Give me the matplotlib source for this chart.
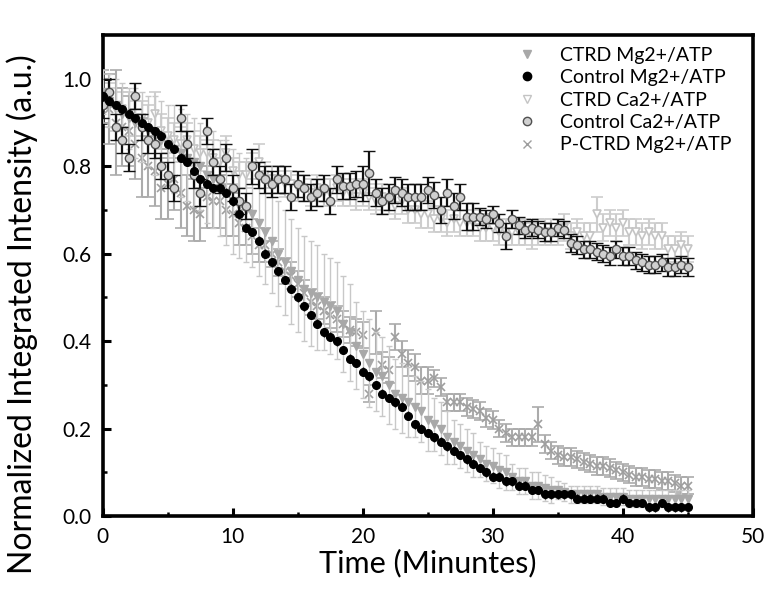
import matplotlib
matplotlib.use("Agg")
import matplotlib.pyplot as plt
from matplotlib.lines import Line2D
import numpy as np

plt.rcParams['font.family'] = ['Lato', 'DejaVu Sans']

# time points, every half minute from 0 to 45
time_min = np.arange(0, 45.5, 0.5)

ctrd_mg = [0.97, 0.95, 0.94, 0.92, 0.91, 0.90, 0.89, 0.88, 0.87, 0.86,
           0.85, 0.84, 0.83, 0.82, 0.81, 0.80, 0.78, 0.77, 0.75, 0.74,
           0.72, 0.71, 0.70, 0.69, 0.67, 0.65, 0.63, 0.60, 0.58, 0.56,
           0.54, 0.52, 0.51, 0.50, 0.49, 0.48, 0.47, 0.44, 0.42, 0.39,
           0.37, 0.35, 0.33, 0.32, 0.30, 0.28, 0.27, 0.26, 0.25, 0.24,
           0.22, 0.21, 0.20, 0.18, 0.17, 0.16, 0.15, 0.14, 0.13, 0.12,
           0.115, 0.105, 0.10, 0.09, 0.08, 0.08, 0.07, 0.07, 0.065, 0.06,
           0.06, 0.055, 0.05, 0.05, 0.05, 0.05, 0.05, 0.045, 0.045, 0.045,
           0.045, 0.04, 0.04, 0.04, 0.04, 0.04, 0.04, 0.04, 0.04, 0.04,
           0.04]
ctrd_mg_err = [0.05, 0.06, 0.06, 0.07, 0.07, 0.08, 0.08, 0.08, 0.09, 0.09,
               0.09, 0.10, 0.10, 0.10, 0.10, 0.10, 0.11, 0.11, 0.11, 0.12,
               0.12, 0.12, 0.12, 0.12, 0.12, 0.12, 0.12, 0.12, 0.12, 0.12,
               0.12, 0.12, 0.12, 0.12, 0.11, 0.11, 0.11, 0.11, 0.11, 0.10,
               0.10, 0.10, 0.09, 0.09, 0.09, 0.08, 0.08, 0.08, 0.07, 0.07,
               0.07, 0.06, 0.06, 0.06, 0.05, 0.05, 0.05, 0.05, 0.04, 0.04,
               0.04, 0.04, 0.04, 0.03, 0.03, 0.03, 0.03, 0.03, 0.03, 0.03,
               0.02, 0.02, 0.02, 0.02, 0.02, 0.02, 0.02, 0.02, 0.02, 0.02,
               0.02, 0.02, 0.02, 0.02, 0.02, 0.02, 0.02, 0.02, 0.02, 0.02,
               0.02]

control_mg = [0.96, 0.95, 0.94, 0.93, 0.92, 0.91, 0.90, 0.89, 0.88, 0.87,
              0.85, 0.84, 0.82, 0.81, 0.79, 0.77, 0.76, 0.75, 0.75, 0.74,
              0.72, 0.69, 0.66, 0.65, 0.63, 0.60, 0.58, 0.56, 0.54, 0.52,
              0.50, 0.48, 0.46, 0.44, 0.42, 0.41, 0.40, 0.38, 0.36, 0.35,
              0.33, 0.32, 0.30, 0.28, 0.27, 0.26, 0.25, 0.23, 0.21, 0.20,
              0.19, 0.18, 0.17, 0.16, 0.15, 0.14, 0.13, 0.12, 0.11, 0.10,
              0.09, 0.09, 0.08, 0.08, 0.07, 0.07, 0.06, 0.06, 0.05, 0.05,
              0.05, 0.05, 0.05, 0.04, 0.04, 0.04, 0.04, 0.04, 0.03, 0.03,
              0.04, 0.03, 0.03, 0.03, 0.02, 0.02, 0.03, 0.02, 0.02, 0.02,
              0.02]

ctrd_ca = [0.95, 0.94, 0.93, 0.93, 0.92, 0.91, 0.91, 0.90, 0.92, 0.88,
           0.87, 0.86, 0.85, 0.86, 0.84, 0.83, 0.83, 0.82, 0.81, 0.83,
           0.79, 0.78, 0.78, 0.80, 0.81, 0.78, 0.77, 0.77, 0.76, 0.76,
           0.75, 0.75, 0.74, 0.75, 0.74, 0.74, 0.75, 0.74, 0.74, 0.73,
           0.74, 0.73, 0.72, 0.73, 0.72, 0.71, 0.72, 0.70, 0.70, 0.69,
           0.69, 0.68, 0.68, 0.67, 0.68, 0.67, 0.67, 0.67, 0.66, 0.66,
           0.66, 0.65, 0.65, 0.65, 0.65, 0.65, 0.64, 0.65, 0.65, 0.65,
           0.65, 0.66, 0.64, 0.65, 0.64, 0.64, 0.69, 0.66, 0.67, 0.66,
           0.67, 0.65, 0.65, 0.64, 0.65, 0.64, 0.64, 0.61, 0.61, 0.62,
           0.61]
ctrd_ca_err = [0.05, 0.05, 0.05, 0.04, 0.05, 0.04, 0.04, 0.04, 0.05, 0.04,
               0.04, 0.04, 0.04, 0.04, 0.04, 0.04, 0.03, 0.04, 0.03, 0.04,
               0.03, 0.03, 0.03, 0.03, 0.04, 0.03, 0.03, 0.03, 0.03, 0.03,
               0.03, 0.03, 0.03, 0.03, 0.03, 0.03, 0.03, 0.03, 0.03, 0.03,
               0.03, 0.03, 0.03, 0.03, 0.03, 0.03, 0.03, 0.03, 0.03, 0.03,
               0.03, 0.03, 0.03, 0.03, 0.03, 0.03, 0.03, 0.03, 0.03, 0.03,
               0.03, 0.03, 0.03, 0.03, 0.03, 0.03, 0.03, 0.03, 0.03, 0.03,
               0.03, 0.03, 0.03, 0.03, 0.03, 0.03, 0.04, 0.03, 0.03, 0.03,
               0.03, 0.03, 0.03, 0.03, 0.03, 0.03, 0.03, 0.03, 0.03, 0.03,
               0.03]

control_ca = [0.94, 0.97, 0.89, 0.86, 0.82, 0.96, 0.89, 0.86, 0.85, 0.80,
              0.78, 0.75, 0.91, 0.85, 0.78, 0.74, 0.88, 0.81, 0.77, 0.82,
              0.75, 0.72, 0.71, 0.80, 0.78, 0.77, 0.76, 0.77, 0.77, 0.73,
              0.76, 0.75, 0.73, 0.74, 0.75, 0.72, 0.77, 0.755, 0.755, 0.76,
              0.76, 0.785, 0.74, 0.72, 0.73, 0.745, 0.74, 0.73, 0.73, 0.73,
              0.745, 0.735, 0.70, 0.74, 0.71, 0.73, 0.685, 0.685, 0.685, 0.68,
              0.69, 0.67, 0.64, 0.68, 0.665, 0.655, 0.66, 0.655, 0.65, 0.65,
              0.66, 0.655, 0.625, 0.62, 0.61, 0.61, 0.605, 0.60, 0.595, 0.61,
              0.595, 0.595, 0.585, 0.58, 0.575, 0.575, 0.58, 0.57, 0.57, 0.575,
              0.57]
control_ca_err = [0.03, 0.03, 0.03, 0.03, 0.03, 0.03, 0.03, 0.03, 0.03, 0.03,
                  0.03, 0.03, 0.03, 0.03, 0.03, 0.03, 0.03, 0.03, 0.03, 0.03,
                  0.03, 0.03, 0.03, 0.04, 0.03, 0.03, 0.03, 0.03, 0.03, 0.03,
                  0.03, 0.03, 0.03, 0.03, 0.03, 0.03, 0.03, 0.03, 0.03, 0.03,
                  0.04, 0.05, 0.03, 0.03, 0.03, 0.03, 0.03, 0.03, 0.03, 0.03,
                  0.03, 0.03, 0.03, 0.03, 0.03, 0.03, 0.03, 0.03, 0.02, 0.02,
                  0.02, 0.02, 0.03, 0.02, 0.02, 0.02, 0.02, 0.02, 0.02, 0.02,
                  0.02, 0.02, 0.02, 0.02, 0.02, 0.02, 0.02, 0.02, 0.02, 0.02,
                  0.02, 0.02, 0.02, 0.02, 0.02, 0.02, 0.02, 0.02, 0.02, 0.02,
                  0.02]

p_ctrd_mg = [0.96, 0.93, 0.90, 0.89, 0.88, 0.85, 0.82, 0.80, 0.79, 0.75,
             0.76, 0.77, 0.74, 0.71, 0.70, 0.69, 0.73, 0.72, 0.72, 0.70,
             0.69, 0.67, 0.66, 0.64, 0.62, 0.62, 0.60, 0.58, 0.56, 0.55,
             0.53, 0.51, 0.49, 0.48, 0.47, 0.46, 0.45, 0.44, 0.425, 0.42,
             0.415, 0.28, 0.42, 0.345, 0.335, 0.41, 0.37, 0.35, 0.34, 0.31,
             0.31, 0.315, 0.295, 0.26, 0.26, 0.26, 0.25, 0.245, 0.24, 0.225,
             0.22, 0.20, 0.19, 0.18, 0.18, 0.18, 0.18, 0.21, 0.165, 0.15,
             0.14, 0.135, 0.135, 0.13, 0.125, 0.12, 0.115, 0.115, 0.11, 0.105,
             0.10, 0.095, 0.09, 0.09, 0.085, 0.085, 0.08, 0.08, 0.075, 0.07,
             0.07]
p_ctrd_mg_err = [0.06, 0.08, 0.12, 0.09, 0.08, 0.08, 0.09, 0.07, 0.08, 0.07,
                 0.08, 0.07, 0.08, 0.07, 0.07, 0.06, 0.07, 0.06, 0.06, 0.06,
                 0.05, 0.05, 0.04, 0.04, 0.04, 0.04, 0.03, 0.03, 0.03, 0.03,
                 0.03, 0.03, 0.03, 0.03, 0.03, 0.03, 0.03, 0.03, 0.03, 0.03,
                 0.03, 0.02, 0.05, 0.03, 0.03, 0.03, 0.03, 0.03, 0.03, 0.03,
                 0.03, 0.02, 0.02, 0.02, 0.02, 0.02, 0.02, 0.02, 0.02, 0.02,
                 0.02, 0.02, 0.02, 0.02, 0.02, 0.02, 0.02, 0.04, 0.02, 0.02,
                 0.02, 0.02, 0.02, 0.02, 0.02, 0.02, 0.02, 0.02, 0.02, 0.02,
                 0.02, 0.02, 0.02, 0.02, 0.02, 0.02, 0.02, 0.02, 0.02, 0.02,
                 0.02]

labels = ['CTRD Mg2+/ATP', 'Control Mg2+/ATP', 'CTRD Ca2+/ATP',
          'Control Ca2+/ATP', 'P-CTRD Mg2+/ATP']

fig = plt.figure(figsize=(7.68, 5.94), dpi=100)
ax = fig.add_axes([0.134, 0.131, 0.846, 0.81])

# CTRD Ca2+ : open light triangles
ax.errorbar(time_min, ctrd_ca, yerr=ctrd_ca_err, fmt='v', ms=6,
            mfc='white', mec='#c4c4c4', mew=1.2, ecolor='#cdcdcd',
            elinewidth=1.5, capsize=4, capthick=1.5, zorder=2)
# P-CTRD Mg2+ : gray crosses
ax.errorbar(time_min, p_ctrd_mg, yerr=p_ctrd_mg_err, fmt='x', ms=6,
            color='#9e9e9e', mew=1.2, ecolor='#ababab',
            elinewidth=1.5, capsize=4, capthick=1.5, zorder=3)
# CTRD Mg2+ : filled gray triangles, thin error bars
ax.errorbar(time_min, ctrd_mg, yerr=ctrd_mg_err, fmt='v', ms=6,
            color='#a8a8a8', ecolor='#c8c8c8',
            elinewidth=1, capsize=2, capthick=1, zorder=4)
# Control Ca2+ : gray circles with black error bars
ax.errorbar(time_min, control_ca, yerr=control_ca_err, fmt='o', ms=6,
            mfc='#d0d0d0', mec='#505050', mew=1, ecolor='#111111',
            elinewidth=1.6, capsize=4, capthick=1.6, zorder=5)
# Control Mg2+ : black dots
ax.errorbar(time_min, control_mg, yerr=0.01, fmt='o', ms=5.5,
            color='black', ecolor='black', elinewidth=1, capsize=0,
            zorder=6)

ax.set_xlim(0, 50)
ax.set_ylim(0, 1.1)
ax.set_xticks([0, 10, 20, 30, 40, 50])
ax.set_xticks([5, 15, 25, 35, 45], minor=True)
ax.set_yticks([0.0, 0.2, 0.4, 0.6, 0.8, 1.0])
ax.set_yticks([0.1, 0.3, 0.5, 0.7, 0.9], minor=True)
ax.set_yticklabels(['0.0', '0.2', '0.4', '0.6', '0.8', '1.0'])

ax.tick_params(which='major', direction='in', length=6, width=2.2,
               labelsize=15, pad=8)
ax.tick_params(which='minor', direction='in', length=3, width=1.8)
for sp in ax.spines.values():
    sp.set_linewidth(2.6)

ax.set_xlabel('Time (Minuntes)', fontsize=22, labelpad=1)
ax.set_ylabel('Normalized Integrated Intensity (a.u.)', fontsize=23)
ax.yaxis.set_label_coords(-0.1, 0.42)

handles = [
    Line2D([], [], ls='none', marker='v', ms=6, color='#a8a8a8'),
    Line2D([], [], ls='none', marker='o', ms=6, color='black'),
    Line2D([], [], ls='none', marker='v', ms=6, mfc='white', mec='#c4c4c4'),
    Line2D([], [], ls='none', marker='o', ms=6, mfc='#d0d0d0', mec='#505050'),
    Line2D([], [], ls='none', marker='x', ms=6, color='#9e9e9e'),
]
ax.legend(handles, labels, loc='upper right', frameon=False, fontsize=14,
          handletextpad=0.7, labelspacing=0.28, borderaxespad=0.2,
          bbox_to_anchor=(0.985, 1.0))

fig.savefig('out.png', dpi=100)
